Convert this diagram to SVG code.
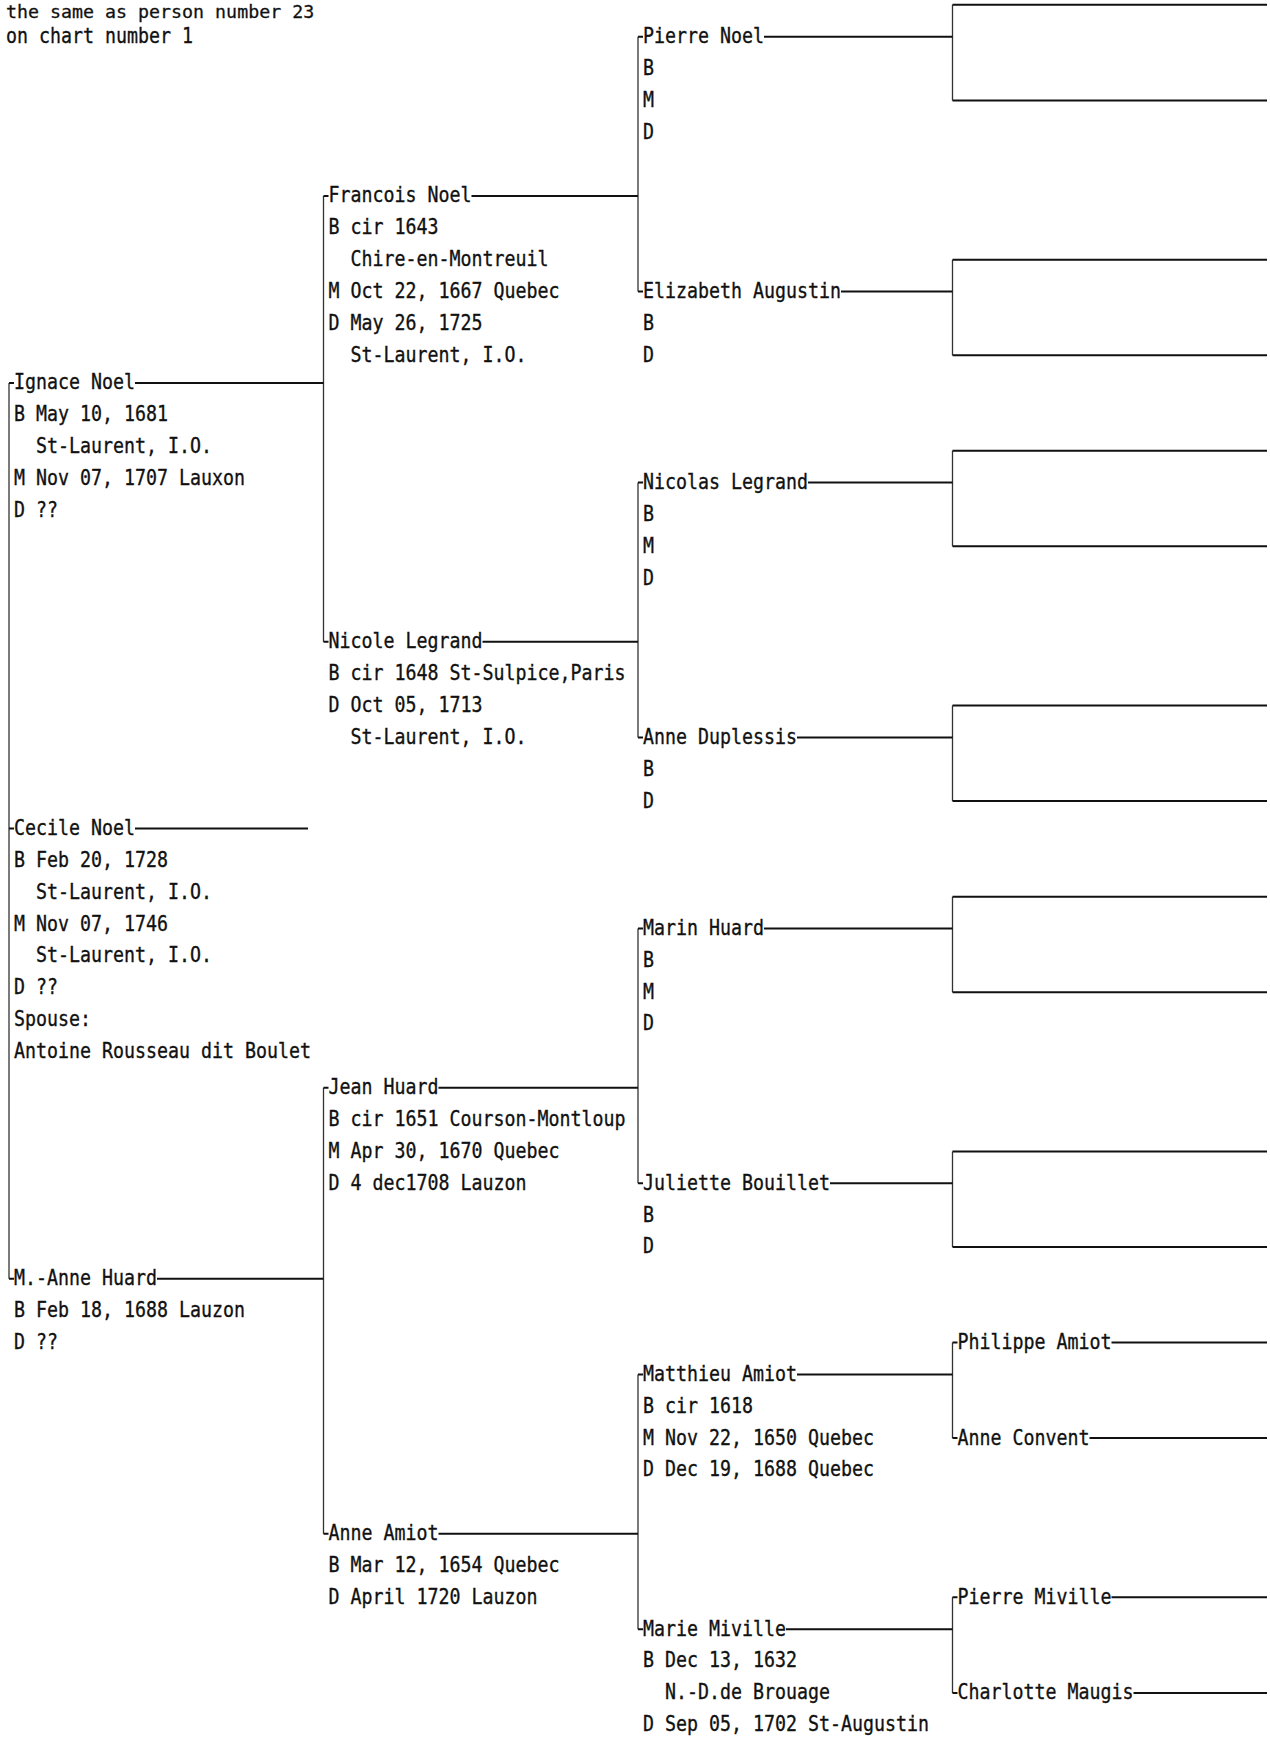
<svg xmlns="http://www.w3.org/2000/svg" width="1270" height="1739" viewBox="0 0 1270 1739">
<style>
.t{font-family:"DejaVu Sans Mono","Liberation Mono",monospace;font-size:18.3px;fill:#111;stroke:#111;stroke-width:0.3}
.t text{transform:scaleY(1.12);transform-box:fill-box;transform-origin:0 80%}
.t text.top{transform:none}
.h{stroke:#111;stroke-width:2;fill:none}
.v{stroke:#333;stroke-width:1.3;fill:none}
</style>
<rect width="1270" height="1739" fill="#fff"/>
<g id="connectors">
<g class="v">
<path d="M9 383V1278.85"/>
<path d="M323.5 195.95V641.85M323.5 1087.75V1533.65"/>
<path d="M638 36.7V291.5M638 482.6V737.4M638 928.5V1183.3M638 1374.4V1629.2"/>
<path d="M952.5 4.85V100.4M952.5 259.65V355.2M952.5 450.75V546.3M952.5 705.55V801.1M952.5 896.65V992.2M952.5 1151.45V1247M952.5 1342.55V1438.1M952.5 1597.35V1692.9"/>
</g>
<g class="h">
<path d="M9 383H14M9 828.5H14M9 1278.85H14"/>
<path d="M135 383H323.5M135 828.5H308M157 1278.85H323.5"/>
<path d="M323.5 195.95H328.5M323.5 641.85H328.5M323.5 1087.75H328.5M323.5 1533.65H328.5"/>
<path d="M471.5 195.95H638M482.5 641.85H638M438.5 1087.75H638M438.5 1533.65H638"/>
<path d="M638 36.7H643M638 291.5H643M638 482.6H643M638 737.4H643M638 928.5H643M638 1183.3H643M638 1374.4H643M638 1629.2H643"/>
<path d="M764 36.7H952.5M841 291.5H952.5M808 482.6H952.5M797 737.4H952.5M764 928.5H952.5M830 1183.3H952.5M797 1374.4H952.5M786 1629.2H952.5"/>
<path d="M952.5 4.85H1267M952.5 100.4H1267M952.5 259.65H1267M952.5 355.2H1267M952.5 450.75H1267M952.5 546.3H1267M952.5 705.55H1267M952.5 801.1H1267M952.5 896.65H1267M952.5 992.2H1267M952.5 1151.45H1267M952.5 1247H1267"/>
<path d="M952.5 1342.55H957.5M952.5 1438.1H957.5M952.5 1597.35H957.5M952.5 1692.9H957.5"/>
<path d="M1111.5 1342.55H1267M1089.5 1438.1H1267M1111.5 1597.35H1267M1133.5 1692.9H1267"/>
</g>
</g>
<g id="header" class="t">
<text class="top" x="6" y="18">the same as person number 23</text>
<text x="6" y="43.2">on chart number 1</text>
</g>
<g id="ignace-noel" class="t">
<text x="14" y="389.5">Ignace Noel</text>
<text x="14" y="421.3">B May 10, 1681</text>
<text x="36" y="453.1">St-Laurent, I.O.</text>
<text x="14" y="485">M Nov 07, 1707 Lauxon</text>
<text x="14" y="516.8">D ??</text>
</g>
<g id="cecile-noel" class="t">
<text x="14" y="835">Cecile Noel</text>
<text x="14" y="866.9">B Feb 20, 1728</text>
<text x="36" y="898.7">St-Laurent, I.O.</text>
<text x="14" y="930.6">M Nov 07, 1746</text>
<text x="36" y="962.4">St-Laurent, I.O.</text>
<text x="14" y="994.3">D ??</text>
<text x="14" y="1026.1">Spouse:</text>
<text x="14" y="1058">Antoine Rousseau dit Boulet</text>
</g>
<g id="m-anne-huard" class="t">
<text x="14" y="1285.35">M.-Anne Huard</text>
<text x="14" y="1317.2">B Feb 18, 1688 Lauzon</text>
<text x="14" y="1349.05">D ??</text>
</g>
<g id="francois-noel" class="t">
<text x="328.5" y="202.45">Francois Noel</text>
<text x="328.5" y="234.3">B cir 1643</text>
<text x="350.5" y="266.15">Chire-en-Montreuil</text>
<text x="328.5" y="298">M Oct 22, 1667 Quebec</text>
<text x="328.5" y="329.85">D May 26, 1725</text>
<text x="350.5" y="361.7">St-Laurent, I.O.</text>
</g>
<g id="nicole-legrand" class="t">
<text x="328.5" y="648.35">Nicole Legrand</text>
<text x="328.5" y="680.2">B cir 1648 St-Sulpice,Paris</text>
<text x="328.5" y="712.05">D Oct 05, 1713</text>
<text x="350.5" y="743.9">St-Laurent, I.O.</text>
</g>
<g id="jean-huard" class="t">
<text x="328.5" y="1094.25">Jean Huard</text>
<text x="328.5" y="1126.1">B cir 1651 Courson-Montloup</text>
<text x="328.5" y="1157.95">M Apr 30, 1670 Quebec</text>
<text x="328.5" y="1189.8">D 4 dec1708 Lauzon</text>
</g>
<g id="anne-amiot" class="t">
<text x="328.5" y="1540.15">Anne Amiot</text>
<text x="328.5" y="1572">B Mar 12, 1654 Quebec</text>
<text x="328.5" y="1603.85">D April 1720 Lauzon</text>
</g>
<g id="pierre-noel" class="t">
<text x="643" y="43.2">Pierre Noel</text>
<text x="643" y="75.05">B</text>
<text x="643" y="106.9">M</text>
<text x="643" y="138.75">D</text>
</g>
<g id="elizabeth-augustin" class="t">
<text x="643" y="298">Elizabeth Augustin</text>
<text x="643" y="329.85">B</text>
<text x="643" y="361.7">D</text>
</g>
<g id="nicolas-legrand" class="t">
<text x="643" y="489.1">Nicolas Legrand</text>
<text x="643" y="520.95">B</text>
<text x="643" y="552.8">M</text>
<text x="643" y="584.65">D</text>
</g>
<g id="anne-duplessis" class="t">
<text x="643" y="743.9">Anne Duplessis</text>
<text x="643" y="775.75">B</text>
<text x="643" y="807.6">D</text>
</g>
<g id="marin-huard" class="t">
<text x="643" y="935">Marin Huard</text>
<text x="643" y="966.85">B</text>
<text x="643" y="998.7">M</text>
<text x="643" y="1030.55">D</text>
</g>
<g id="juliette-bouillet" class="t">
<text x="643" y="1189.8">Juliette Bouillet</text>
<text x="643" y="1221.65">B</text>
<text x="643" y="1253.5">D</text>
</g>
<g id="matthieu-amiot" class="t">
<text x="643" y="1380.9">Matthieu Amiot</text>
<text x="643" y="1412.75">B cir 1618</text>
<text x="643" y="1444.6">M Nov 22, 1650 Quebec</text>
<text x="643" y="1476.45">D Dec 19, 1688 Quebec</text>
</g>
<g id="marie-miville" class="t">
<text x="643" y="1635.7">Marie Miville</text>
<text x="643" y="1667.55">B Dec 13, 1632</text>
<text x="665" y="1699.4">N.-D.de Brouage</text>
<text x="643" y="1731.25">D Sep 05, 1702 St-Augustin</text>
</g>
<g id="philippe-amiot" class="t"><text x="957.5" y="1349.05">Philippe Amiot</text></g>
<g id="anne-convent" class="t"><text x="957.5" y="1444.6">Anne Convent</text></g>
<g id="pierre-miville" class="t"><text x="957.5" y="1603.85">Pierre Miville</text></g>
<g id="charlotte-maugis" class="t"><text x="957.5" y="1699.4">Charlotte Maugis</text></g>
</svg>
